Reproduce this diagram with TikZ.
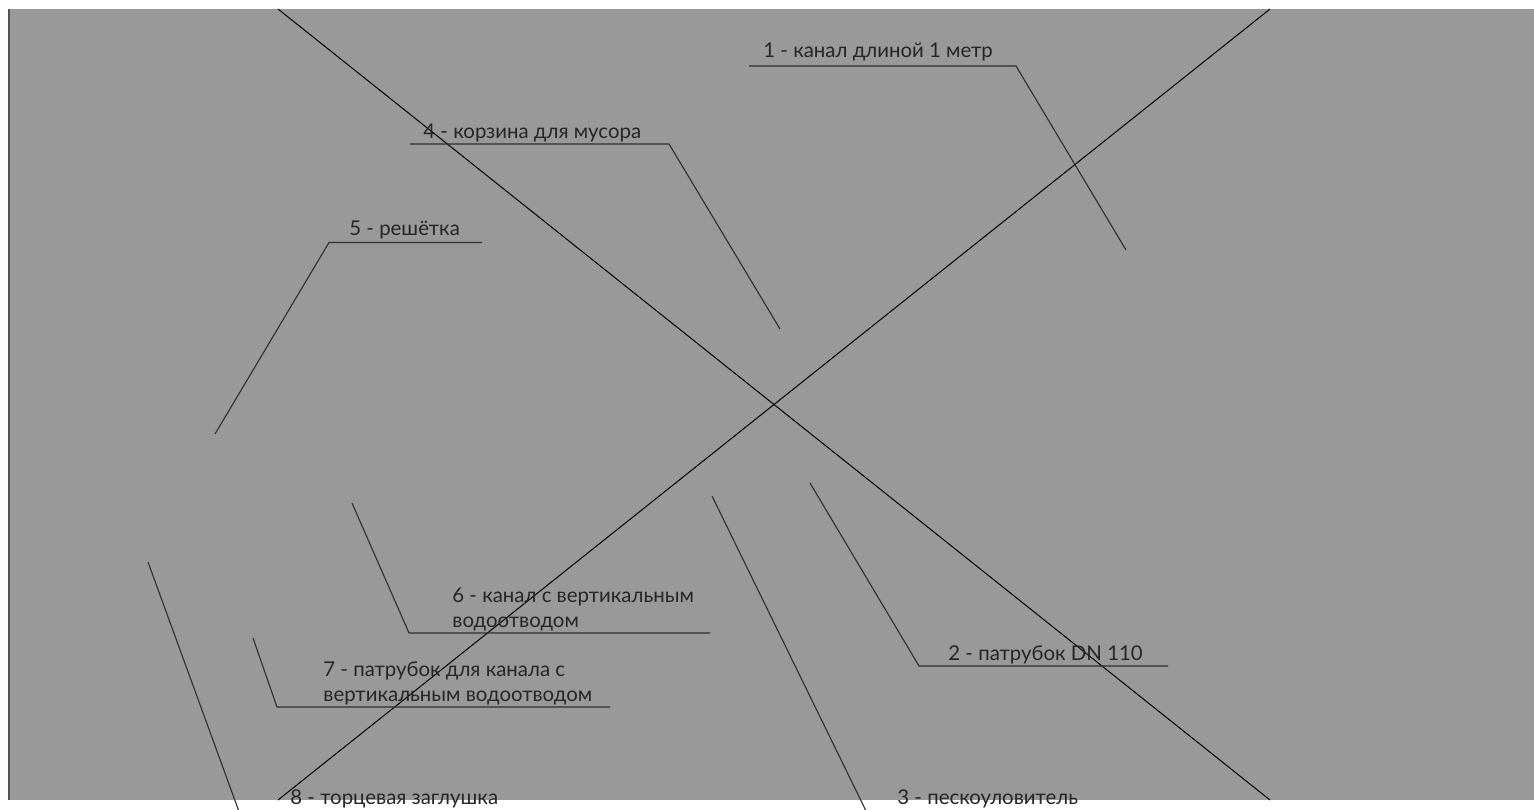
\documentclass[tikz,border=0pt]{standalone}
\usepackage{fontspec}
\setmainfont{Lato}
\definecolor{bggray}{HTML}{999999}
\definecolor{edgegray}{HTML}{555555}
\definecolor{labeltext}{HTML}{262626}
\definecolor{leadergray}{HTML}{2E2E2E}
\begin{document}
\begin{tikzpicture}[x=0.5pt,y=-0.5pt,
    lbl/.style={anchor=base west,inner sep=0pt,text=labeltext,
        font=\fontsize{10.2}{12.15}\selectfont,align=left},
    leader/.style={draw=leadergray,line width=0.55pt},
    cross/.style={draw=black,line width=0.5pt}]
    \useasboundingbox (0,0) rectangle (1534,809);
    \clip (0,0) rectangle (1534,809);
    % picture area
    \fill[bggray] (9,9) rectangle (1534,800);
    \draw[edgegray,line width=0.6pt] (9,9) -- (9,800);
    % crossed box
    \coordinate (ca) at (278,9);
    \coordinate (cb) at (1270,9);
    \coordinate (cc) at (1270,800);
    \coordinate (cd) at (278,800);
    \draw[cross] (ca)--(cc) (cb)--(cd);
    % 1
    \coordinate (e1) at (1126,250);
    \coordinate (k1) at (1016,66);
    \coordinate (u1) at (749,66);
    \draw[leader] (e1)--(k1)--(u1);
    \node[lbl] (t1) at (763,57) {1 - канал длиной 1 метр};
    % 4
    \coordinate (e4) at (780,329);
    \coordinate (k4) at (669,144);
    \coordinate (u4) at (410,144);
    \draw[leader] (e4)--(k4)--(u4);
    \node[lbl] (t4) at (423,138) {4 - корзина для мусора};
    % 5
    \coordinate (e5) at (215,434);
    \coordinate (k5) at (329,242.5);
    \coordinate (u5) at (482,242.5);
    \draw[leader] (e5)--(k5)--(u5);
    \node[lbl] (t5) at (349,235) {5 - решётка};
    % 6 (base = last line)
    \coordinate (e6) at (352,503);
    \coordinate (k6) at (409,633);
    \coordinate (u6) at (710,633);
    \draw[leader] (e6)--(k6)--(u6);
    \node[lbl] (t6) at (452,627) {6 - канал с вертикальным\\водоотводом};
    % 7
    \coordinate (e7) at (253,638);
    \coordinate (k7) at (277,707);
    \coordinate (u7) at (610,707);
    \draw[leader] (e7)--(k7)--(u7);
    \node[lbl] (t7) at (323,701) {7 - патрубок для канала с\\вертикальным водоотводом};
    % 2
    \coordinate (e2) at (810,483);
    \coordinate (k2) at (919,666);
    \coordinate (u2) at (1168,666);
    \draw[leader] (e2)--(k2)--(u2);
    \node[lbl] (t2) at (948,660) {2 - патрубок DN 110};
    % 3
    \coordinate (e3) at (712,496);
    \coordinate (k3) at (869,817);
    \coordinate (u3) at (1110,817);
    \draw[leader] (e3)--(k3)--(u3);
    \node[lbl] (t3) at (897,804) {3 - пескоуловитель};
    % 8
    \coordinate (e8) at (148,562);
    \coordinate (k8) at (241,817);
    \coordinate (u8) at (500,817);
    \draw[leader] (e8)--(k8)--(u8);
    \node[lbl] (t8) at (290,804) {8 - торцевая заглушка};
\end{tikzpicture}
\end{document}
